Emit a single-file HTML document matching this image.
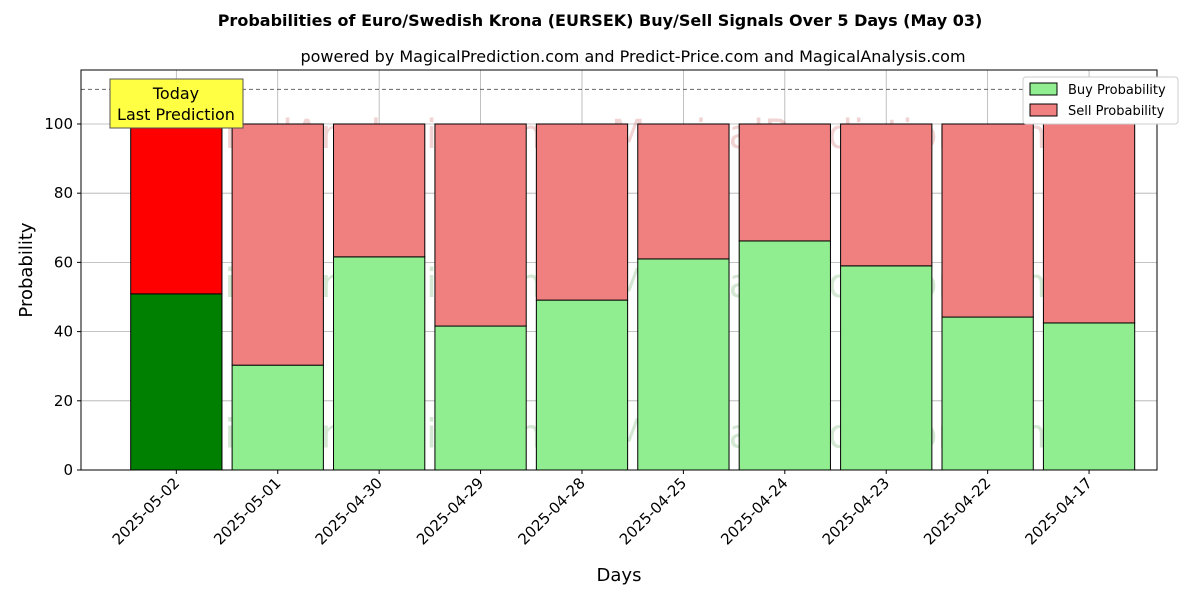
<!DOCTYPE html>
<html><head><meta charset="utf-8"><style>
body{margin:0;background:#fff;}
svg{font-family:"DejaVu Sans","Liberation Sans",sans-serif;}
</style></head><body>
<svg id="chart" width="1200" height="600" xmlns="http://www.w3.org/2000/svg">
<rect width="1200" height="600" fill="#fff"/>
<text x="600" y="26" text-anchor="middle" font-size="16" font-weight="bold">Probabilities of Euro/Swedish Krona (EURSEK) Buy/Sell Signals Over 5 Days (May 03)</text>
<text x="633" y="62" text-anchor="middle" font-size="16">powered by MagicalPrediction.com and Predict-Price.com and MagicalAnalysis.com</text>
<g id="plot"></g>
</svg>
<script>
const categories = ["2025-05-02","2025-05-01","2025-04-30","2025-04-29","2025-04-28","2025-04-25","2025-04-24","2025-04-23","2025-04-22","2025-04-17"];
const buyValues = [50.9,30.3,61.6,41.6,49.1,61.0,66.2,59.0,44.2,42.5];
const sellValues = buyValues.map(v => 100 - v);
const yTicks = [0,20,40,60,80,100];

const L=81,R=1157,T=70,B=470;
const xMin=-0.94,xMax=9.67,yMin=0,yMax=115.6;
const xs=i=>L+(i-xMin)/(xMax-xMin)*(R-L);
const ys=v=>B-(v-yMin)/(yMax-yMin)*(B-T);
const bw=0.9*(R-L)/(xMax-xMin);
const NS="http://www.w3.org/2000/svg";
const g=document.getElementById('plot');
function mk(tag,attrs,text){const e=document.createElementNS(NS,tag);for(const k in attrs)e.setAttribute(k,attrs[k]);if(text!==undefined)e.textContent=text;g.appendChild(e);return e;}

// grid
yTicks.forEach(t=>{
  const e=mk('line',{x1:L,x2:R,y1:ys(t),y2:ys(t),stroke:'#b0b0b0','stroke-width':0.8});
  
  
});
categories.forEach((c,i)=>{
  const e=mk('line',{x1:xs(i),x2:xs(i),y1:T,y2:B,stroke:'#b0b0b0','stroke-width':0.8});
  
  
});
// watermarks
[[ys(93),'MagicalAnalysis.s.com'],[ys(50),'MagicalAnalysis.com'],[ys(6.5),'MagicalAnalysis.com']].forEach((w,k)=>{
  const a=mk('text',{x:348,y:w[0],'text-anchor':'middle','font-size':40,fill:k==0?'rgba(200,80,80,0.25)':'rgba(80,160,80,0.25)'},k==0?'MagicalAnalysis.com':w[1]);
  
  
  const b=mk('text',{x:836,y:w[0],'text-anchor':'middle','font-size':40,fill:k==0?'rgba(200,80,80,0.25)':'rgba(80,160,80,0.25)'},'MagicalPrediction.com');
  
  
});
// bars
categories.forEach((c,i)=>{
  const x=xs(i)-bw/2;
  const b=mk('rect',{x:x,y:ys(buyValues[i]),width:bw,height:ys(0)-ys(buyValues[i]),fill:i==0?'#008000':'#90ee90',stroke:'#000','stroke-width':1});
  
  
  const s=mk('rect',{x:x,y:ys(100),width:bw,height:ys(buyValues[i])-ys(100),fill:i==0?'#ff0000':'#f08080',stroke:'#000','stroke-width':1});
  
  
});
// dashed line at 110
const dl=mk('line',{x1:L,x2:R,y1:ys(110),y2:ys(110),stroke:'#666','stroke-width':1,'stroke-dasharray':'4,3'});


// axes frame
const fr=mk('rect',{x:L,y:T,width:R-L,height:B-T,fill:'none',stroke:'#000','stroke-width':1});


// y ticks
yTicks.forEach(t=>{
  const tk=mk('line',{x1:L-4,x2:L,y1:ys(t),y2:ys(t),stroke:'#000'});
  
  
  const lb=mk('text',{x:L-8,y:ys(t)+5,'text-anchor':'end','font-size':15},String(t));
  
  
});
// x ticks
categories.forEach((c,i)=>{
  const tk=mk('line',{x1:xs(i),x2:xs(i),y1:B,y2:B+4,stroke:'#000'});
  
  
  const lb=mk('text',{x:xs(i)+4,y:B+14,'text-anchor':'end','font-size':15,transform:`rotate(-45 ${xs(i)+4} ${B+14})`},c);
  
  
});
const xt=mk('text',{x:(L+R)/2,y:581,'text-anchor':'middle','font-size':18},'Days');


const yt=mk('text',{x:32,y:(T+B)/2,'text-anchor':'middle','font-size':18,transform:`rotate(-90 32 ${(T+B)/2})`},'Probability');


// today annotation
const ab=mk('rect',{x:110,y:79,width:133,height:49,fill:'#ffff44',stroke:'#555','stroke-width':1});


const a1=mk('text',{x:176,y:99,'text-anchor':'middle','font-size':16},'Today');


const a2=mk('text',{x:176,y:120,'text-anchor':'middle','font-size':16},'Last Prediction');


// legend
const lg=mk('rect',{x:1023,y:77,width:155,height:47,fill:'#fff',stroke:'#ccc','stroke-width':1,rx:3});


const l1=mk('rect',{x:1030,y:83,width:27,height:12,fill:'#90ee90',stroke:'#000'});


const t1=mk('text',{x:1068,y:94,'font-size':13},'Buy Probability');


const l2=mk('rect',{x:1030,y:104,width:27,height:12,fill:'#f08080',stroke:'#000'});


const t2=mk('text',{x:1068,y:115,'font-size':13},'Sell Probability');


</script>
</body></html>
